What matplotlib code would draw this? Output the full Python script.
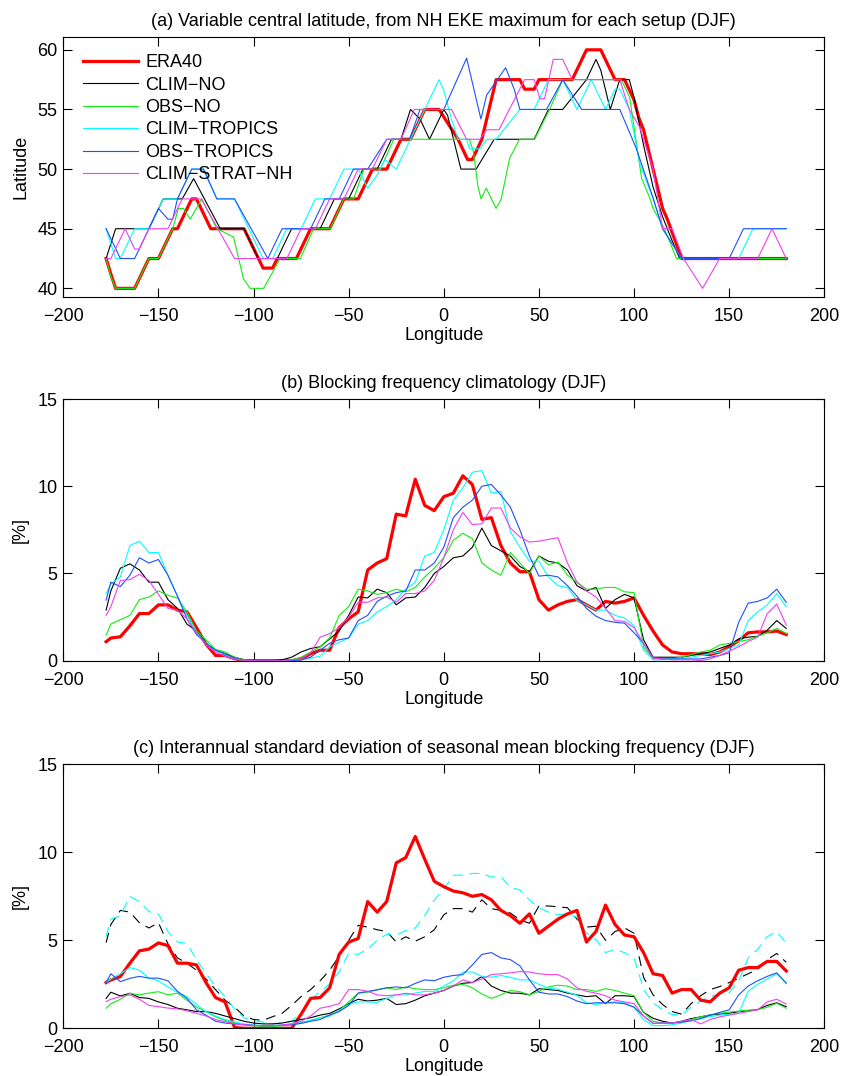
import matplotlib
matplotlib.use("Agg")
import matplotlib.pyplot as plt

plt.rcParams['font.family'] = ['Liberation Sans', 'DejaVu Sans']
plt.rcParams['font.size'] = 13
plt.rcParams['axes.unicode_minus'] = True

# ---------------- colours / names ----------------
names = ['ERA40', 'CLIM\u2212NO', 'OBS\u2212NO', 'CLIM\u2212TROPICS', 'OBS\u2212TROPICS', 'CLIM\u2212STRAT\u2212NH']
colors = ['#ff0000', '#000000', '#11ee11', '#00ffff', '#1f4fff', '#f040f0']

# ---------------- panel (a): central latitude (breakpoints lon, lat) ----------------
a_era40_lon = [-177.5, -175, -172.5, -162.5, -155, -150, -142.5, -140, -132.5, -130, -122.5, -105, -95, -90,
               -87.5, -77.5, -70, -60, -52.5, -45, -37.5, -30, -22.5, -17.5, -10, -2.5, 7.5, 12.5, 15, 20,
               27.5, 40, 42.5, 47.5, 50, 67.5, 75, 82.5, 90, 95, 100, 102.5, 105, 110, 115, 117.5, 125, 180]
a_era40_lat = [42.5, 41.2, 40, 40, 42.5, 42.5, 45, 45, 47.5, 47.5, 45, 45, 41.7, 41.7,
               42.5, 42.5, 45, 45, 47.5, 47.5, 50, 50, 52.5, 52.5, 55, 55, 52.5, 50.8, 50.8, 52.5,
               57.5, 57.5, 56.7, 56.7, 57.5, 57.5, 60, 60, 57.5, 57.5, 55.8, 54.3, 53.3, 50, 46.7, 45.8, 42.5, 42.5]

a_climno_lon = [-177.5, -172.5, -155, -147.5, -137.5, -131.5, -117.5, -105, -97.5, -87.5, -80, -65, -57.5, -50,
                -42.5, -35, -27.5, -22.5, -17.5, -12.5, -7.5, 0, 2, 9, 17, 26.5, 47.5, 55, 62.5, 75,
                80, 82.5, 87.5, 92.5, 97.5, 100, 105, 110, 115, 120, 124, 180]
a_climno_lat = [42.5, 45, 45, 47.5, 47.5, 49.2, 45, 45, 42.5, 42.5, 45, 45, 47.5, 47.5,
                50, 50, 52.5, 52.5, 55, 54.2, 52.5, 55, 54.5, 50, 50, 52.5, 52.5, 55, 55, 57.5,
                59.2, 58.3, 55, 57.5, 57.5, 56, 52, 48.5, 46, 44, 42.5, 42.5]

a_obsno_lon = [-177.5, -175, -172.5, -162.5, -155, -150, -142.5, -139.5, -136.8, -133.3, -127.2, -119.3, -110.5,
               -105.3, -101.8, -94.7, -86, -75.4, -68.4, -59.6, -52.6, -47.4, -42, -33.3, -26.3, 13.5, 15.5,
               18, 19.6, 22.3, 27.5, 30.2, 34.6, 39.8, 47.7, 55.6, 62.6, 93.3, 97.7, 104, 108, 110, 116, 122.3, 180]
a_obsno_lat = [42.5, 41, 40, 40, 42.5, 42.5, 45, 46.7, 46.7, 45.8, 47.5, 45, 44.3,
               40.8, 40, 40, 42.5, 42.5, 45, 45, 47.5, 47.5, 50, 50, 52.5, 52.5, 51.5,
               48.5, 47.5, 48.4, 46.7, 47.5, 50.9, 52.5, 52.5, 55, 57.5, 57.5, 56, 49.2, 47.7, 46.7, 45, 42.5, 42.5]

a_climtrop_lon = [-177.5, -172.5, -170, -162.5, -155, -147.5, -140, -132.5, -126.3, -119.3, -110, -95, -90,
                  -82.5, -75, -67.5, -60, -52.5, -45, -40, -35, -31, -25, -2.5, 0, 4, 7.5, 12, 13.5, 19,
                  22.5, 27.5, 40, 47.5, 55, 62.5, 70, 77.5, 85, 90, 92.5, 97.5, 103, 110, 115, 125, 155, 162.5, 180]
a_climtrop_lat = [45, 42.5, 42.5, 45, 45, 47.5, 47.5, 50, 50, 47.5, 47.5, 42.5, 42.5,
                  45, 45, 47.5, 47.5, 50, 50, 48.4, 49.5, 50.8, 50, 57.5, 56.6, 54.2, 52.5, 52.5, 51.7, 51.7,
                  52.5, 52.5, 55, 55, 57.5, 57.5, 55, 57.5, 55, 56.7, 56.7, 55, 50.5, 47.5, 45, 42.5, 42.5, 45, 45]

a_obstrop_lon = [-177.5, -170, -162.5, -155, -150, -145, -142.5, -140, -132.5, -126.3, -119.3, -110, -92.5,
                 -85, -70, -62.5, -55, -47.5, -40, -30, -18, -12.5, 0, 12, 19.5, 22.5, 32.5, 37, 40, 54,
                 62.5, 72.5, 92.5, 101, 110, 115, 125, 150, 157.5, 180]
a_obstrop_lat = [45, 42.5, 42.5, 45, 46.7, 45.8, 45.8, 47.5, 50, 50, 47.5, 47.5, 42.5,
                 45, 45, 47.5, 47.5, 50, 50, 52.5, 52.5, 55, 55, 59.3, 54.2, 56.2, 58.5, 56.7, 55, 55,
                 57.5, 55, 55, 51.8, 47.6, 45, 42.5, 42.5, 45, 45]

a_climstrat_lon = [-177.5, -175, -167.5, -162.5, -160, -155, -145, -137.5, -127.5, -110, -82.5, -75, -67.5,
                   -60, -52.5, -45, -37.5, -30, -22.5, -15.5, 4, 12, 19, 22.5, 29, 42.5, 47.5, 50.5, 53,
                   57.5, 62.5, 67.5, 92.5, 97.5, 103, 110, 115, 120, 126, 136, 145, 165, 172.5, 180]
a_climstrat_lat = [42.5, 42.5, 45, 43.3, 43.3, 45, 45, 47.5, 47.5, 42.5, 42.5, 45, 45,
                   47.5, 47.5, 50, 50, 52.5, 52.5, 55, 55, 52.5, 52.5, 53.3, 53.3, 57.5, 57.5, 55.9, 55.9,
                   59.2, 59.2, 57.5, 57.5, 55, 53.5, 50, 45, 45, 42.5, 40, 42.5, 42.5, 45, 42.5]

# ---------------- panels (b) and (c): common longitude grid ----------------
lon_bc = [-177.5] + list(range(-175, 181, 5))

b_era40 = [1.09,
           1.3, 1.37, 2.0, 2.7, 2.7, 3.2, 3.2, 2.9, 2.8, 1.9,
           0.95, 0.3, 0.3, 0.12, 0, 0, 0, 0, 0, 0,
           0.1, 0.4, 0.6, 0.6, 1.9, 2.4, 2.8, 5.2, 5.6, 5.85,
           8.4, 8.3, 10.4, 8.9, 8.6, 9.4, 9.6, 10.6, 10.1, 8.1,
           8.2, 6.6, 5.6, 5.1, 5.1, 3.5, 2.9, 3.2, 3.4, 3.5,
           3.2, 2.9, 3.4, 3.3, 3.4, 3.6, 2.6, 1.7, 0.9, 0.5,
           0.4, 0.4, 0.4, 0.35, 0.5, 0.8, 1.15, 1.6, 1.65, 1.65,
           1.7, 1.5]
b_clim_no = [2.9,
             4.0, 5.3, 5.55, 5.2, 4.5, 4.5, 3.5, 3.0, 2.1, 1.7,
             1.0, 0.6, 0.4, 0.2, 0.05, 0, 0, 0, 0.05, 0.2,
             0.5, 0.7, 0.8, 1.25, 1.7, 2.6, 3.65, 3.6, 4.1, 3.9,
             3.2, 3.6, 3.65, 4.2, 5.0, 5.4, 5.9, 6.0, 6.5, 7.6,
             6.6, 6.3, 6.0, 5.4, 5.1, 6.0, 5.7, 5.6, 5.2, 4.3,
             4.0, 4.2, 3.0, 3.5, 3.8, 3.6, 1.2, 0.2, 0.2, 0.2,
             0.2, 0.3, 0.4, 0.5, 0.7, 0.9, 1.25, 1.35, 1.4, 1.75,
             2.3, 1.85]
b_obs_no = [1.47,
            2.1, 2.35, 2.6, 3.5, 3.65, 4.0, 3.75, 3.6, 2.8, 1.7,
            1.2, 0.65, 0.5, 0.2, 0.05, 0, 0, 0, 0, 0.05,
            0.2, 0.5, 0.8, 1.3, 2.6, 3.1, 4.1, 4.0, 3.8, 3.9,
            4.1, 3.95, 4.2, 4.8, 5.3, 5.9, 6.9, 7.3, 7.0, 5.6,
            5.2, 4.9, 6.2, 5.6, 5.0, 6.0, 5.5, 5.65, 4.9, 4.5,
            4.1, 4.1, 4.2, 4.2, 3.95, 3.9, 0.8, 0.1, 0.1, 0.1,
            0.2, 0.35, 0.5, 0.6, 0.9, 1.0, 1.1, 1.2, 1.4, 1.6,
            1.85, 1.56]
b_clim_trop = [3.85,
               4.4, 4.8, 6.6, 6.85, 6.2, 6.2, 4.9, 3.7, 2.6, 1.6,
               1.0, 0.6, 0.35, 0.12, 0.02, 0, 0, 0, 0, 0,
               0.05, 0.15, 0.25, 0.8, 1.05, 1.3, 2.1, 2.3, 2.8, 3.1,
               3.5, 4.1, 4.5, 6.0, 6.2, 7.5, 9.2, 9.9, 10.8, 10.9,
               9.6, 9.7, 7.4, 6.5, 5.7, 5.7, 4.8, 4.3, 4.2, 3.45,
               3.2, 2.9, 2.9, 2.6, 2.45, 2.0, 0.6, 0.05, 0.05, 0.1,
               0.1, 0.2, 0.3, 0.4, 0.5, 0.7, 0.9, 2.3, 2.8, 3.2,
               3.85, 3.1]
b_obs_trop = [3.47,
              4.5, 4.25, 4.9, 5.9, 5.6, 5.8, 4.9, 3.7, 2.4, 1.5,
              1.0, 0.6, 0.4, 0.15, 0.02, 0, 0, 0, 0, 0,
              0.05, 0.2, 0.6, 1.0, 1.2, 1.3, 2.3, 2.6, 3.4, 3.7,
              3.9, 4.0, 5.2, 5.2, 5.6, 6.5, 8.2, 8.8, 9.2, 10.0,
              10.1, 9.5, 8.8, 7.5, 6.0, 4.85, 4.9, 4.8, 4.3, 3.7,
              3.0, 2.55, 2.3, 2.2, 2.15, 1.6, 1.0, 0.15, 0.1, 0.1,
              0.1, 0.1, 0.1, 0.2, 0.3, 0.45, 2.2, 3.3, 3.4, 3.6,
              4.1, 3.35]
b_clim_strat = [2.6,
                3.1, 4.6, 4.65, 4.95, 4.6, 3.8, 3.0, 2.9, 2.4, 1.6,
                0.9, 0.5, 0.25, 0.1, 0.02, 0, 0, 0, 0, 0.05,
                0.1, 0.45, 1.35, 1.55, 1.9, 2.5, 3.35, 3.35, 3.6, 3.65,
                3.35, 3.85, 3.85, 4.0, 4.6, 5.9, 7.5, 8.5, 7.8, 7.85,
                8.75, 8.75, 7.6, 7.1, 6.8, 6.85, 6.95, 7.05, 5.6, 4.5,
                4.0, 3.65, 3.0, 2.3, 2.25, 1.9, 1.0, 0.15, 0.1, 0.05,
                0.05, 0.05, 0.0, 0.1, 0.3, 0.55, 0.8, 1.1, 1.35, 2.7,
                3.25, 2.04]

c_era40 = [2.6,
           2.75, 2.94, 3.7, 4.4, 4.5, 4.85, 4.7, 3.7, 3.7, 3.6,
           2.6, 1.75, 1.5, 0.05, 0, 0, 0, 0, 0, 0,
           0.8, 1.7, 1.75, 2.3, 4.2, 4.9, 5.1, 7.2, 6.6, 7.2,
           9.4, 9.7, 10.9, 9.6, 8.35, 8.05, 7.8, 7.7, 7.5, 7.6,
           7.3, 6.7, 6.4, 5.97, 6.5, 5.4, 5.8, 6.2, 6.5, 6.7,
           4.9, 5.5, 7.0, 5.9, 5.3, 5.2, 4.3, 3.1, 3.0, 2.0,
           2.2, 2.2, 1.6, 1.5, 2.0, 2.3, 3.3, 3.45, 3.45, 3.8,
           3.8, 3.26]
c_clim_no = [1.7,
             2.05, 1.84, 1.99, 1.75, 1.7, 1.5, 1.35, 1.14, 1.05, 0.95,
             0.95, 0.85, 0.7, 0.55, 0.4, 0.3, 0.25, 0.25, 0.3, 0.4,
             0.5, 0.6, 0.75, 0.85, 1.1, 1.4, 1.65, 1.55, 1.6, 1.7,
             1.35, 1.4, 1.6, 1.85, 2.0, 2.15, 2.4, 2.56, 2.6, 2.94,
             2.4, 2.15, 2.0, 1.99, 1.9, 2.25, 2.2, 2.15, 2.0, 1.9,
             1.8, 1.85, 1.4, 1.85, 1.85, 1.8, 0.9, 0.57, 0.4, 0.3,
             0.4, 0.55, 0.65, 0.76, 0.8, 0.85, 0.95, 1.0, 1.07, 1.3,
             1.45, 1.23]
c_obs_no = [1.14,
            1.4, 1.65, 1.99, 1.9, 2.0, 2.08, 1.9, 2.0, 1.6, 1.2,
            0.95, 0.65, 0.45, 0.3, 0.2, 0.15, 0.1, 0.1, 0.15, 0.2,
            0.3, 0.45, 0.6, 0.75, 1.0, 1.5, 2.0, 2.05, 2.2, 2.3,
            2.2, 2.35, 2.25, 2.2, 2.2, 2.3, 2.45, 2.5, 2.3, 1.95,
            1.7, 1.9, 2.15, 2.08, 1.9, 2.1, 2.35, 2.45, 2.4, 2.2,
            2.2, 2.1, 2.25, 2.15, 2.0, 1.85, 0.9, 0.4, 0.3, 0.3,
            0.35, 0.5, 0.65, 0.76, 0.85, 0.92, 0.98, 1.03, 1.05, 1.2,
            1.42, 1.14]
c_clim_trop = [2.6,
               2.8, 3.1, 3.45, 3.3, 2.85, 2.7, 2.35, 2.05, 1.8, 1.35,
               0.95, 0.7, 0.5, 0.37, 0.25, 0.18, 0.16, 0.15, 0.18, 0.27,
               0.35, 0.45, 0.6, 0.7, 1.0, 1.35, 1.5, 1.5, 1.47, 1.7,
               1.9, 1.9, 2.0, 2.1, 2.08, 2.4, 2.7, 3.2, 3.2, 2.95,
               2.9, 3.0, 2.9, 2.75, 2.75, 2.5, 2.27, 2.22, 2.05, 1.88,
               1.45, 1.35, 1.45, 1.5, 1.45, 1.2, 0.5, 0.15, 0.15, 0.2,
               0.3, 0.45, 0.55, 0.66, 0.75, 0.8, 0.85, 2.1, 2.5, 2.8,
               3.1, 2.56]
c_obs_trop = [2.6,
              3.1, 2.65, 2.84, 2.95, 2.85, 2.85, 2.7, 2.1, 1.7, 1.05,
              0.75, 0.4, 0.3, 0.25, 0.2, 0.17, 0.15, 0.15, 0.18, 0.2,
              0.28, 0.4, 0.5, 0.75, 0.95, 1.3, 2.0, 2.1, 2.18, 2.3,
              2.35, 2.3, 2.55, 2.75, 2.7, 2.9, 3.0, 3.05, 3.6, 4.2,
              4.3, 4.0, 3.9, 3.55, 2.75, 2.05, 1.95, 1.95, 1.8, 1.55,
              1.4, 1.45, 1.45, 1.45, 1.4, 1.2, 0.7, 0.28, 0.3, 0.3,
              0.35, 0.42, 0.55, 0.75, 0.9, 1.05, 1.9, 2.4, 2.7, 2.95,
              3.15, 2.56]
c_clim_strat = [1.52,
                1.65, 1.8, 1.9, 1.65, 1.3, 1.23, 1.15, 1.1, 1.0, 0.85,
                0.7, 0.5, 0.38, 0.25, 0.2, 0.16, 0.15, 0.15, 0.18, 0.25,
                0.4, 0.7, 1.14, 1.25, 1.4, 2.2, 2.2, 2.1, 1.9, 1.85,
                1.9, 1.99, 1.9, 1.9, 2.0, 2.15, 2.4, 2.75, 2.6, 2.8,
                3.05, 3.1, 3.15, 3.22, 3.2, 3.1, 3.05, 3.05, 2.8, 2.3,
                2.1, 2.0, 1.85, 1.6, 1.5, 1.4, 0.7, 0.28, 0.3, 0.3,
                0.4, 0.5, 0.25, 0.5, 0.65, 0.75, 0.85, 0.95, 1.05, 1.5,
                1.65, 1.38]
c_clim_no_dash = [4.87,
                  5.9, 6.7, 6.6, 6.0, 5.7, 6.0, 4.8, 4.0, 3.7, 3.3,
                  2.8, 2.2, 1.6, 1.2, 0.7, 0.5, 0.45, 0.66, 0.85, 1.3,
                  1.8, 2.2, 2.7, 3.3, 4.1, 5.0, 5.85, 5.75, 5.6, 5.5,
                  4.9, 5.2, 4.95, 5.2, 5.6, 6.45, 6.8, 6.8, 6.6, 7.3,
                  6.8, 6.7, 6.55, 6.16, 5.97, 6.95, 6.95, 6.9, 6.85, 6.2,
                  5.75, 5.8, 5.0, 5.5, 5.7, 5.4, 2.9, 1.9, 1.35, 0.95,
                  0.8, 1.4, 1.85, 2.2, 2.37, 2.6, 2.85, 3.1, 3.35, 3.9,
                  4.25, 3.75]
c_clim_trop_dash = [5.21,
                    6.2, 6.4, 7.5, 7.2, 6.63, 6.5, 5.5, 4.9, 4.83, 3.9,
                    3.1, 2.4, 1.8, 1.1, 0.6, 0.45, 0.35, 0.25, 0.3, 0.4,
                    0.9, 1.6, 2.1, 2.5, 3.2, 4.26, 4.2, 4.5, 5.0, 5.35,
                    5.3, 5.55, 5.7, 6.4, 7.3, 7.9, 8.7, 8.7, 8.8, 8.8,
                    8.6, 8.6, 8.0, 7.86, 7.29, 6.85, 6.6, 6.45, 6.5, 6.3,
                    5.4, 5.05, 4.3, 4.5, 4.3, 4.0, 2.2, 1.45, 1.05, 0.78,
                    0.78, 1.2, 1.55, 1.8, 1.95, 2.0, 2.7, 4.0, 4.5, 5.2,
                    5.5, 4.83]

xticks = [-200, -150, -100, -50, 0, 50, 100, 150, 200]
titles = ['(a) Variable central latitude, from NH EKE maximum for each setup (DJF)',
          '(b) Blocking frequency climatology (DJF)',
          '(c) Interannual standard deviation of seasonal mean blocking frequency (DJF)']

# ---------------- figure ----------------
W, H = 846, 1076
fig = plt.figure(figsize=(W / 100, H / 100), dpi=100)

def px_axes(left, top, right, bottom):
    return fig.add_axes([left / W, 1 - bottom / H, (right - left) / W, (bottom - top) / H])

axa = px_axes(63.3, 37.3, 824.3, 296.7)
axb = px_axes(63.3, 399.0, 824.3, 660.7)
axc = px_axes(63.3, 764.3, 824.3, 1028.3)

thin = 0.8
thick = 2.3

# panel a
a_series = [(a_era40_lon, a_era40_lat), (a_climno_lon, a_climno_lat), (a_obsno_lon, a_obsno_lat),
            (a_climtrop_lon, a_climtrop_lat), (a_obstrop_lon, a_obstrop_lat),
            (a_climstrat_lon, a_climstrat_lat)]
handles = []
for i, (lo, la) in enumerate(a_series):
    h, = axa.plot(lo, la, color=colors[i], lw=thick if i == 0 else thin, label=names[i])
    handles.append(h)
axa.set_ylim(39.3, 61.05)
axa.set_yticks([40, 45, 50, 55, 60])
axa.set_ylabel('Latitude')
leg = axa.legend(handles=handles, loc='upper left', bbox_to_anchor=(0.026, 0.935), frameon=False,
                 borderaxespad=0, borderpad=0, handlelength=3.05, handletextpad=0.4,
                 labelspacing=0.3, fontsize=13)

# panel b
b_series = [b_era40, b_clim_no, b_obs_no, b_clim_trop, b_obs_trop, b_clim_strat]
for i, s in enumerate(b_series):
    axb.plot(lon_bc, s, color=colors[i], lw=thick if i == 0 else thin)
axb.set_ylim(0, 15)
axb.set_yticks([0, 5, 10, 15])
axb.set_ylabel('[%]')

# panel c
c_series = [c_era40, c_clim_no, c_obs_no, c_clim_trop, c_obs_trop, c_clim_strat]
axc.plot(lon_bc, c_clim_no_dash, color='k', lw=thin, dashes=(9, 6))
axc.plot(lon_bc, c_clim_trop_dash, color=colors[3], lw=thin, dashes=(9, 6))
for i, s in enumerate(c_series):
    axc.plot(lon_bc, s, color=colors[i], lw=thick if i == 0 else thin)
axc.set_ylim(0, 15)
axc.set_yticks([0, 5, 10, 15])
axc.set_ylabel('[%]')

for ax, t in zip([axa, axb, axc], titles):
    ax.set_xlim(-200, 200)
    ax.set_xticks(xticks)
    ax.set_xlabel('Longitude', labelpad=1.5)
    ax.set_title(t, fontsize=13, pad=8)
    ax.tick_params(direction='in', length=6.5, width=0.8, top=True, right=True)
    ax.tick_params(axis='x', pad=8)
    ax.tick_params(axis='y', pad=4)
    for sp in ax.spines.values():
        sp.set_linewidth(0.8)
    ax.yaxis.set_label_coords(-0.045, 0.5)

fig.savefig('out.png', dpi=100)
